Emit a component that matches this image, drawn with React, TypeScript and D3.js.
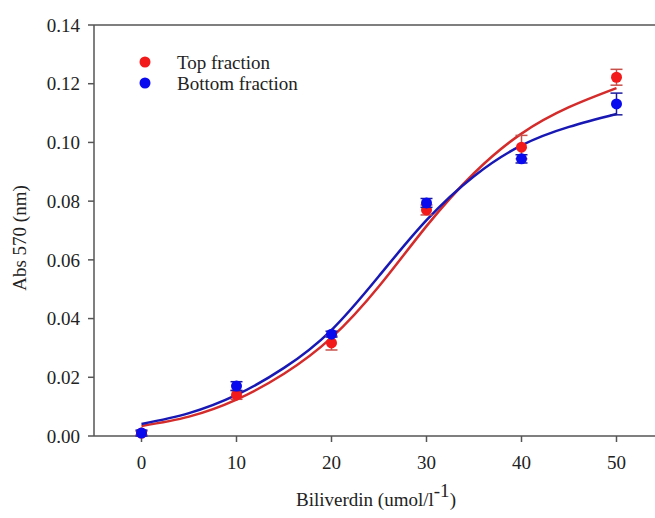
import React, { useEffect, useRef } from 'react';
import * as d3 from 'd3';

// Biliverdin concentration (umol/l)
const conc = [0, 10, 20, 30, 40, 50];

// measured absorbance and error bars
const topMean = [0.001, 0.014, 0.0317, 0.077, 0.0984, 0.1222];
const topErr = [0.0006, 0.0015, 0.0024, 0.0017, 0.004, 0.0027];
const bottomMean = [0.001, 0.017, 0.0347, 0.0794, 0.0944, 0.1131];
const bottomErr = [0.001, 0.0015, 0.001, 0.0015, 0.0014, 0.0037];

// fitted sigmoid curves, every 5 units
const fitX = [0, 5, 10, 15, 20, 25, 30, 35, 40, 45, 50];
const topFit = [0.0034, 0.0066, 0.0124, 0.0212, 0.0335, 0.051, 0.0715, 0.0895, 0.103, 0.112, 0.1185];
const bottomFit = [0.0041, 0.0078, 0.014, 0.0232, 0.0361, 0.0545, 0.0735, 0.0885, 0.099, 0.1053, 0.1097];

const yTicks = [0, 0.02, 0.04, 0.06, 0.08, 0.1, 0.12, 0.14];
const xTicks = [0, 10, 20, 30, 40, 50];

const series = [
  { name: 'Top fraction', mean: topMean, err: topErr, fit: topFit, dot: '#f21a1a', line: '#d42b2b', bar: '#c8504a' },
  { name: 'Bottom fraction', mean: bottomMean, err: bottomErr, fit: bottomFit, dot: '#0a0aee', line: '#1818b4', bar: '#1a1aa0' },
];

export default function App() {
  const svgRef = useRef<SVGSVGElement>(null);

  const width = 655,
    height = 518;

  useEffect(() => {
    const svg = d3.select(svgRef.current);
    svg.selectAll('*').remove();

    const font = '"Liberation Serif", "Times New Roman", serif';
    const axisColor = '#555';
    const textColor = '#222';

    const x = d3.scaleLinear().domain([-5, 55]).range([94, 664]);
    const y = d3.scaleLinear().domain([0, 0.14]).range([436, 25]);

    // frame lines (left, bottom, top)
    svg.append('line').attr('x1', x(-5)).attr('x2', x(-5)).attr('y1', y(0.14)).attr('y2', y(0))
      .attr('stroke', axisColor).attr('stroke-width', 1.5);
    svg.append('line').attr('x1', x(-5)).attr('x2', width).attr('y1', y(0)).attr('y2', y(0))
      .attr('stroke', axisColor).attr('stroke-width', 1.5);
    svg.append('line').attr('x1', x(-5)).attr('x2', width).attr('y1', y(0.14)).attr('y2', y(0.14))
      .attr('stroke', axisColor).attr('stroke-width', 1.5);

    // y ticks
    const yAxis = svg.append('g');
    yTicks.forEach(t => {
      yAxis.append('line').attr('x1', x(-5) - 6).attr('x2', x(-5)).attr('y1', y(t)).attr('y2', y(t))
        .attr('stroke', axisColor).attr('stroke-width', 1.5);
      yAxis.append('text').attr('x', 80).attr('y', y(t)).attr('dy', '0.35em')
        .attr('text-anchor', 'end').style('font-family', font).style('font-size', '19px')
        .attr('fill', textColor).text(t.toFixed(2));
    });

    // x ticks
    const xAxis = svg.append('g');
    xTicks.forEach(t => {
      xAxis.append('line').attr('x1', x(t)).attr('x2', x(t)).attr('y1', y(0)).attr('y2', y(0) + 6)
        .attr('stroke', axisColor).attr('stroke-width', 1.5);
      xAxis.append('text').attr('x', x(t)).attr('y', 462).attr('dy', '0.35em')
        .attr('text-anchor', 'middle').style('font-family', font).style('font-size', '19px')
        .attr('fill', textColor).text(t);
    });

    // axis titles
    svg.append('text').attr('transform', `translate(19,238) rotate(-90)`).attr('dy', '0.35em')
      .attr('text-anchor', 'middle').style('font-family', font).style('font-size', '19px')
      .attr('fill', textColor).text('Abs 570 (nm)');

    const xTitle = svg.append('text').attr('x', 376).attr('y', 506).attr('text-anchor', 'middle')
      .style('font-family', font).style('font-size', '19px').attr('fill', textColor);
    xTitle.append('tspan').text('Biliverdin (umol/l');
    xTitle.append('tspan').attr('dy', -9).style('font-size', '19px').text('-1');
    xTitle.append('tspan').attr('dy', 9).text(')');

    // fitted curves
    const line = d3.line<number>()
      .x((d, i) => x(fitX[i]))
      .y(d => y(d))
      .curve(d3.curveNatural);

    series.forEach(s => {
      svg.append('path').datum(s.fit).attr('d', line)
        .attr('fill', 'none').attr('stroke', s.line).attr('stroke-width', 2.5);
    });

    // error bars and points
    series.forEach(s => {
      const g = svg.append('g');
      conc.forEach((c, i) => {
        const lo = y(s.mean[i] - s.err[i]);
        const hi = y(s.mean[i] + s.err[i]);
        g.append('line').attr('x1', x(c)).attr('x2', x(c)).attr('y1', lo).attr('y2', hi)
          .attr('stroke', s.bar).attr('stroke-width', 1.5);
        [lo, hi].forEach(v => {
          g.append('line').attr('x1', x(c) - 6).attr('x2', x(c) + 6).attr('y1', v).attr('y2', v)
            .attr('stroke', s.bar).attr('stroke-width', 1.5);
        });
        g.append('circle').attr('cx', x(c)).attr('cy', y(s.mean[i])).attr('r', 5.5).attr('fill', s.dot);
      });
    });

    // legend
    series.forEach((s, i) => {
      svg.append('circle').attr('cx', 145).attr('cy', 62 + i * 21).attr('r', 5.5).attr('fill', s.dot);
      svg.append('text').attr('x', 177).attr('y', 62 + i * 21).attr('dy', '0.35em')
        .style('font-family', font).style('font-size', '19px').attr('fill', textColor).text(s.name);
    });
  });

  return (
    <div>
      <svg ref={svgRef} width={width} height={height}
        style={{ position: 'absolute', left: 0, top: 0, background: '#fff' }} />
    </div>
  );
}
